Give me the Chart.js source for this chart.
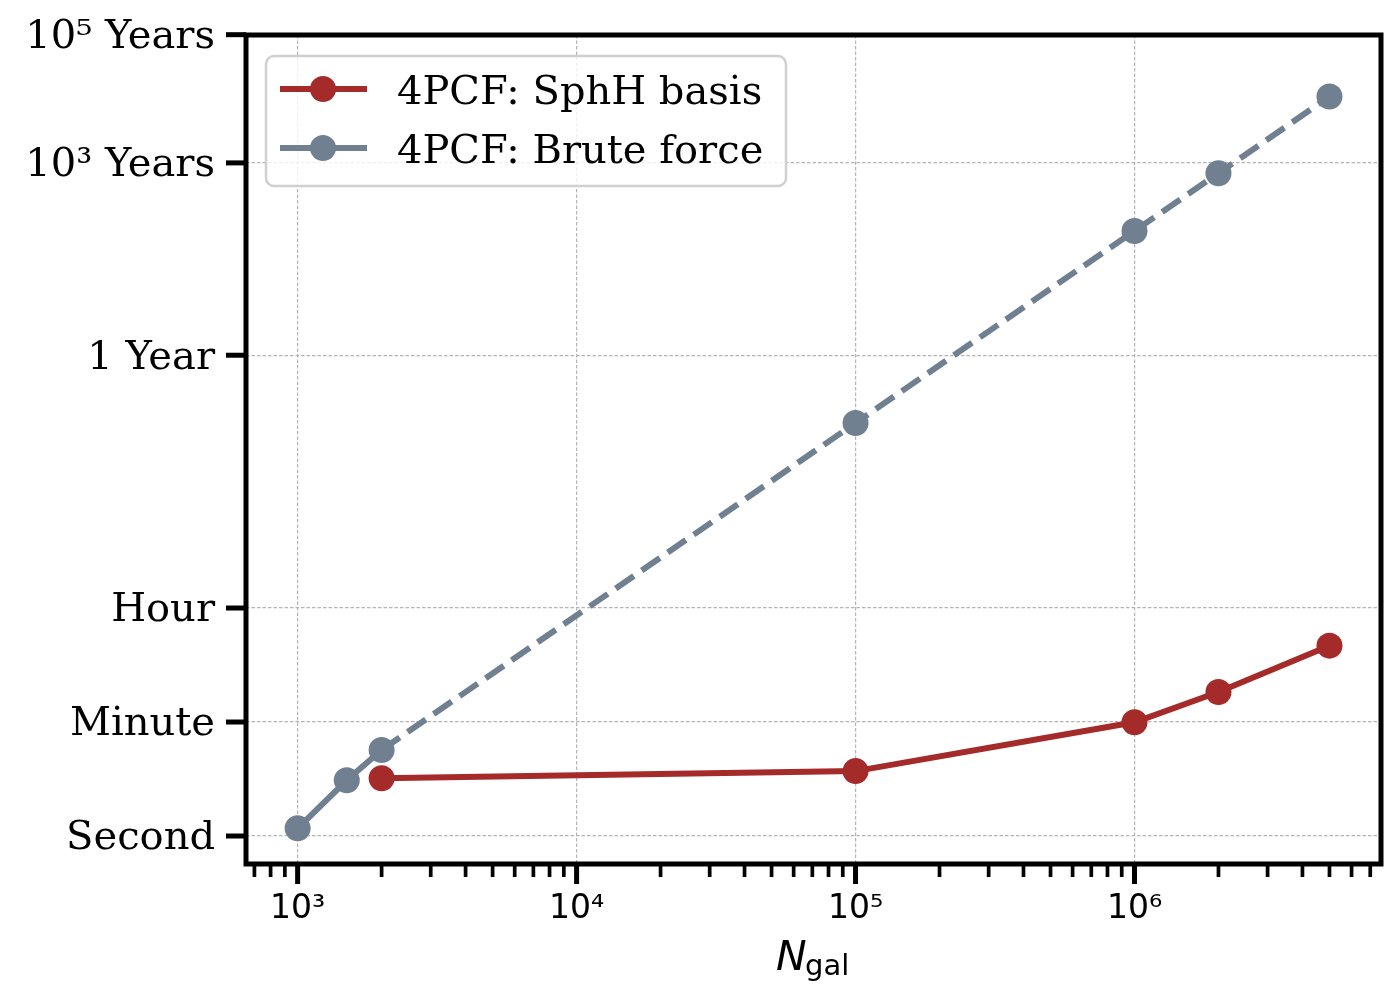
<!DOCTYPE html>
<html>
<head>
<meta charset="utf-8">
<title>4PCF timing</title>
<script src="https://cdn.jsdelivr.net/npm/chart.js@4.4.1/dist/chart.umd.min.js"></script>
<style>
  html, body { margin: 0; padding: 0; background: #fff; }
  #wrap { width: 1400px; height: 999px; }
</style>
</head>
<body>
<div id="wrap"><canvas id="timing" width="1400" height="999"></canvas></div>
<script>
// --- data (time in seconds vs number of galaxies) ---
const nGalSphH = [2000, 1e5, 1e6, 2e6, 5e6];
const timeSphH = [7.95, 10.3, 59.4, 176, 931];
const nGalBrute = [1000, 1500, 2000, 1e5, 1e6, 2e6, 5e6];
const timeBrute = [1.32, 7.4, 22, 2.77e6, 2.74e9, 2.18e10, 3.42e11];

// --- ticks ---
const yTickValues = [1, 60, 3600, 3.156e7, 3.156e10, 3.156e12];
const yTickLabels = ['Second', 'Minute', 'Hour', '1 Year', '10³ Years', '10⁵ Years'];
const xMajorTicks = [1e3, 1e4, 1e5, 1e6];
const xMajorLabels = ['10³', '10⁴', '10⁵', '10⁶'];

const seriesNames = ['4PCF: SphH basis', '4PCF: Brute force'];
const seriesColors = ['#a52a2a', '#708090'];

const X_MIN = 653, X_MAX = 7.65e6;
const Y_MIN = 0.366, Y_MAX = 3.12e12;

const LINE_W = 6;
const MARKER_R = 13;

function toPoints(xs, ys) {
  return xs.map((x, i) => ({ x: x, y: ys[i] }));
}

// log minor ticks: 1..9 x 10^n within the axis range
function xTickList() {
  const out = [];
  for (let e = 2; e <= 6; e++) {
    for (let m = 1; m <= 9; m++) {
      const v = m * Math.pow(10, e);
      if (v >= X_MIN && v <= X_MAX) out.push({ value: v, major: m === 1 });
    }
  }
  return out;
}

// frame, tick marks, x label and legend (matplotlib look)
const decorPlugin = {
  id: 'decor',
  afterDatasetsDraw(chart) {
    const { ctx, chartArea: a, scales } = chart;
    ctx.save();

    // outward tick marks
    ctx.strokeStyle = '#000';
    ctx.lineCap = 'butt';
    scales.y.ticks.forEach(t => {
      const py = scales.y.getPixelForValue(t.value);
      ctx.lineWidth = 5;
      ctx.beginPath();
      ctx.moveTo(a.left - 20, py);
      ctx.lineTo(a.left, py);
      ctx.stroke();
    });
    scales.x.ticks.forEach(t => {
      const px = scales.x.getPixelForValue(t.value);
      ctx.lineWidth = t.major ? 5 : 3.7;
      ctx.beginPath();
      ctx.moveTo(px, a.bottom);
      ctx.lineTo(px, a.bottom + (t.major ? 20 : 13));
      ctx.stroke();
    });

    // frame
    ctx.lineWidth = 5;
    ctx.strokeRect(a.left, a.top, a.right - a.left, a.bottom - a.top);

    // x axis label: N_gal
    ctx.fillStyle = '#000';
    ctx.textBaseline = 'alphabetic';
    ctx.textAlign = 'left';
    ctx.font = 'italic 41px "DejaVu Sans"';
    ctx.fillText('N', 776, 970);
    ctx.font = '29px "DejaVu Sans"';
    ctx.fillText('gal', 805, 975);

    // legend
    const lx = 266, ly = 56, lw = 520, lh = 130, r = 8;
    ctx.beginPath();
    ctx.moveTo(lx + r, ly);
    ctx.arcTo(lx + lw, ly, lx + lw, ly + lh, r);
    ctx.arcTo(lx + lw, ly + lh, lx, ly + lh, r);
    ctx.arcTo(lx, ly + lh, lx, ly, r);
    ctx.arcTo(lx, ly, lx + lw, ly, r);
    ctx.closePath();
    ctx.fillStyle = 'rgba(255,255,255,0.8)';
    ctx.fill();
    ctx.strokeStyle = '#d0d0d0';
    ctx.lineWidth = 2.5;
    ctx.stroke();

    const rows = [89, 148];
    rows.forEach((ry, i) => {
      ctx.strokeStyle = seriesColors[i];
      ctx.lineWidth = LINE_W;
      ctx.beginPath();
      ctx.moveTo(280, ry);
      ctx.lineTo(367, ry);
      ctx.stroke();
      ctx.fillStyle = seriesColors[i];
      ctx.beginPath();
      ctx.arc(323, ry, MARKER_R, 0, Math.PI * 2);
      ctx.fill();
      ctx.fillStyle = '#000';
      ctx.font = '40px "DejaVu Serif"';
      ctx.fillText(seriesNames[i], 397, ry + 14.5);
    });

    ctx.restore();
  }
};

const gridDash = [3.5, 2];
const gridColor = '#b4b4b4';

new Chart(document.getElementById('timing'), {
  type: 'line',
  data: {
    datasets: [
      {
        label: seriesNames[0],
        data: toPoints(nGalSphH, timeSphH),
        borderColor: seriesColors[0],
        backgroundColor: seriesColors[0],
        borderWidth: LINE_W,
        pointRadius: MARKER_R,
        pointBorderWidth: 0,
        pointBackgroundColor: seriesColors[0],
        tension: 0,
        fill: false
      },
      {
        label: seriesNames[1],
        data: toPoints(nGalBrute, timeBrute),
        borderColor: seriesColors[1],
        backgroundColor: seriesColors[1],
        borderWidth: LINE_W,
        pointRadius: MARKER_R,
        pointBorderWidth: 0,
        pointBackgroundColor: seriesColors[1],
        tension: 0,
        fill: false,
        // solid for the first measured points, dashed afterwards
        segment: {
          borderDash: c => (c.p0DataIndex >= 2 ? [22, 9.6] : undefined)
        }
      }
    ]
  },
  options: {
    responsive: false,
    animation: false,
    layout: { padding: { left: 0, top: 35, right: 19, bottom: 0 } },
    plugins: {
      legend: { display: false },
      tooltip: { enabled: false }
    },
    scales: {
      x: {
        type: 'logarithmic',
        min: X_MIN,
        max: X_MAX,
        afterBuildTicks: scale => { scale.ticks = xTickList(); },
        afterFit: scale => {
          scale.height = 135;
          scale.paddingLeft = 0;
          scale.paddingRight = 0;
        },
        ticks: {
          autoSkip: false,
          maxRotation: 0,
          padding: 26,
          color: '#000',
          font: { family: 'DejaVu Sans', size: 33 },
          callback: function (value) {
            const k = xMajorTicks.indexOf(value);
            return k >= 0 ? xMajorLabels[k] : '';
          }
        },
        grid: {
          drawTicks: false,
          lineWidth: 1.2,
          color: c => (c.tick && c.tick.major ? gridColor : 'rgba(0,0,0,0)')
        },
        border: { display: false, dash: gridDash }
      },
      y: {
        type: 'logarithmic',
        min: Y_MIN,
        max: Y_MAX,
        afterBuildTicks: scale => {
          scale.ticks = yTickValues.map(v => ({ value: v, major: true }));
        },
        afterFit: scale => {
          scale.width = 246;
          scale.paddingTop = 0;
          scale.paddingBottom = 0;
        },
        ticks: {
          autoSkip: false,
          padding: 31,
          labelOffset: 3,
          color: '#000',
          font: { family: 'DejaVu Serif', size: 40 },
          callback: function (value) {
            const k = yTickValues.indexOf(value);
            return k >= 0 ? yTickLabels[k] : '';
          }
        },
        grid: {
          drawTicks: false,
          lineWidth: 1.2,
          color: gridColor
        },
        border: { display: false, dash: gridDash }
      }
    }
  },
  plugins: [decorPlugin]
});
</script>
</body>
</html>
